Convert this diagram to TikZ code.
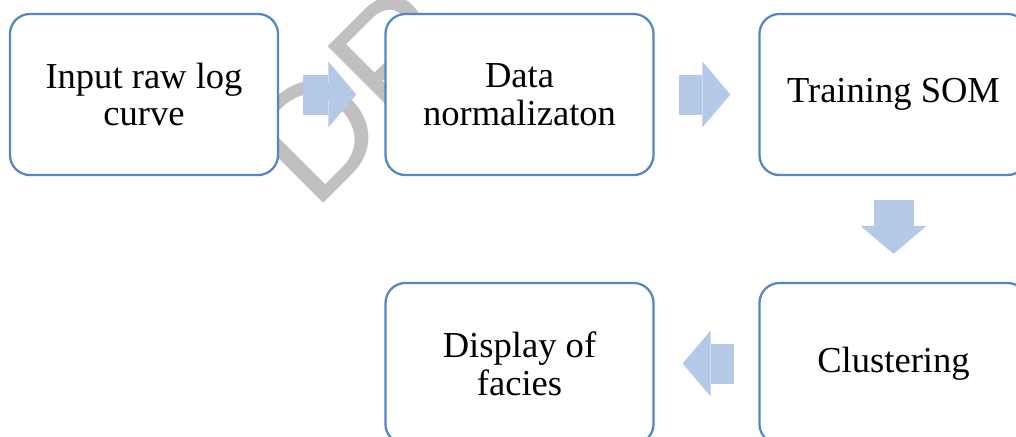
\documentclass[tikz,border=0pt]{standalone}
\usepackage{fontspec}
\setmainfont{Liberation Serif}
\newfontfamily\markfont{Liberation Sans}
\usetikzlibrary{arrows.meta}
\definecolor{boxblue}{RGB}{84,134,194}
\definecolor{arrowblue}{RGB}{180,200,231}
\definecolor{markgray}{RGB}{192,192,192}
\tikzset{
  stepbox/.style={rectangle, rounded corners=0.5cm, draw=boxblue, line width=1.6pt, fill=white, minimum width=6.7cm, minimum height=4.025cm, inner sep=0pt, align=center, font=\fontsize{26}{27}\selectfont},
  flowarrow/.style={arrowblue, line width=1cm, -{Triangle[width=1.65cm, length=0.7cm, line width=0pt]}, shorten <=0.6cm, shorten >=0.7cm},
  watermark/.style={text=markgray, inner sep=0pt, rotate=45, anchor=base west, font=\markfont\fontsize{112}{112}\selectfont}
}

\begin{document}
\begin{tikzpicture}[x=0.025cm, y=-0.025cm]
  \useasboundingbox (0,0) rectangle (1016,436);
  \clip (0,0) rectangle (1016,436);
  \node[watermark] (stamp) at (314.4,212.6) {DR};

  \node[stepbox] (input) at (144,94.5) {Input raw log\\curve};
  \node[stepbox] (norm) at (519.5,94.5) {Data\\normalizaton};
  \node[stepbox] (som) at (893.5,94.5) {Training SOM};
  \node[stepbox] (clust) at (893.5,363.5) {Clustering};
  \node[stepbox] (facies) at (519.5,363.5) {Display of\\facies};

  \draw[flowarrow] (input.east) -- (norm.west);
  \draw[flowarrow] (norm.east) -- (som.west);
  \draw[flowarrow] (som.south) -- (clust.north);
  \draw[flowarrow] (clust.west) -- (facies.east);
\end{tikzpicture}
\end{document}
